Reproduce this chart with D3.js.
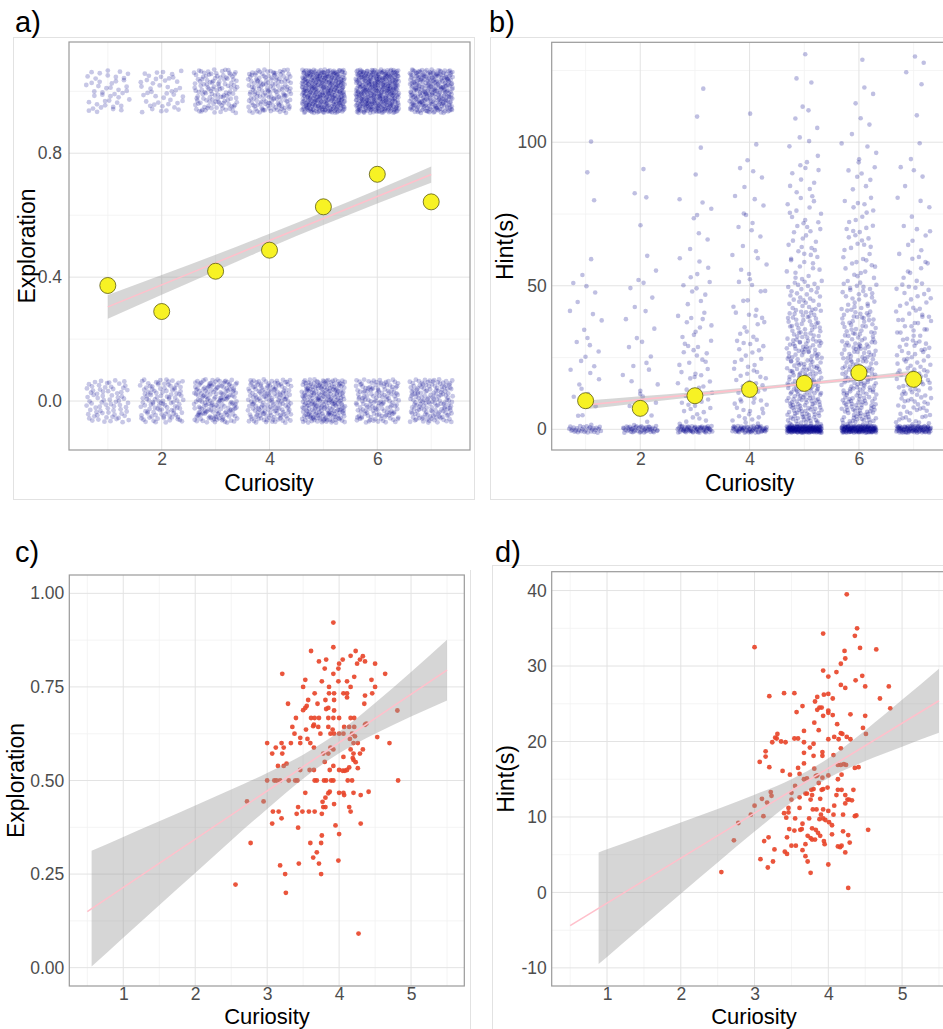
<!DOCTYPE html>
<html>
<head>
<meta charset="utf-8">
<script src="https://cdn.jsdelivr.net/npm/d3@7"></script>
<style>
  body { margin: 0; background: #ffffff; }
  text { font-family: "Liberation Sans", Arial, Helvetica, sans-serif; }
</style>
</head>
<body>
<svg id="fig" width="943" height="1029"></svg>
<script>
// ---------------------------------------------------------------
// Curiosity ratings (trial level, panels a and b)
const curiosityLevels = [1, 2, 3, 4, 5, 6, 7];

// Panel a: number of trials with exploration = 0 and = 1 at each rating
const explorationZeroCounts = [75, 110, 166, 158, 230, 145, 155];
const explorationOneCounts  = [45, 45, 120, 150, 380, 390, 280];
const explorationMeans = [0.373, 0.289, 0.419, 0.487, 0.627, 0.732, 0.643];
// linear fit with 95% band, evaluated at each rating
const explorationFit   = [0.304, 0.375, 0.446, 0.518, 0.589, 0.660, 0.731];
const explorationFitLo = [0.266, 0.343, 0.420, 0.496, 0.568, 0.638, 0.705];
const explorationFitHi = [0.342, 0.407, 0.472, 0.540, 0.610, 0.682, 0.757];

// Panel b: hint time (s) per trial — trials with no hint, then counts per 10 s bin
const hintZeroCounts = [30, 45, 60, 60, 160, 140, 90];
const hintBinEdges = [0, 10, 20, 30, 40, 50, 60, 70, 80, 90, 100, 110, 120, 130];
const hintBinCounts = [
  [6, 6, 6, 5, 4, 2, 0, 1, 1, 1, 0, 0, 0],
  [7, 6, 5, 4, 4, 3, 1, 1, 2, 0, 0, 0, 0],
  [15, 14, 12, 10, 7, 5, 3, 5, 1, 1, 1, 1, 0],
  [20, 18, 14, 10, 8, 6, 5, 6, 4, 2, 1, 0, 0],
  [72, 66, 55, 42, 30, 16, 14, 12, 8, 5, 4, 2, 2],
  [66, 60, 50, 38, 26, 15, 14, 10, 7, 5, 3, 3, 1],
  [32, 32, 27, 21, 16, 10, 7, 4, 4, 2, 1, 1, 3]
];
const hintMeans = [9.97, 7.3, 11.7, 13.9, 16.0, 19.7, 17.4];
const hintFit   = [8.5, 10.33, 12.17, 14.0, 15.83, 17.67, 19.5];
const hintFitLo = [7.0, 9.2, 11.3, 13.35, 15.25, 17.0, 18.5];
const hintFitHi = [10.0, 11.5, 13.0, 14.65, 16.4, 18.3, 20.5];

// Panel c: participant mean curiosity vs. exploration rate
const cCuriosity = [3.92,3.92,3.61,4.23,4.16,4.33,4.29,3.72,3.82,4.05,4.36,4.00,4.25,4.50,3.80,3.99,3.21,3.92,4.64,4.21,
  3.53,3.76,3.99,4.11,4.45,3.50,3.86,4.16,4.50,3.66,3.86,3.93,4.06,4.11,4.36,4.46,4.11,3.57,3.81,3.93,
  3.29,3.70,4.35,3.55,3.53,3.50,3.82,3.85,3.93,3.40,3.61,3.66,3.72,3.85,3.92,4.00,4.16,4.21,4.81,3.35,
  3.64,3.65,3.71,3.85,3.91,4.07,4.14,4.21,4.36,4.38,3.54,3.38,3.74,3.88,3.93,4.00,4.06,4.18,4.22,3.46,
  3.56,4.15,4.53,3.00,3.20,3.33,3.46,3.60,4.20,4.26,4.70,3.12,3.23,3.65,3.88,3.92,4.16,4.33,3.07,3.21,
  3.78,3.85,4.06,4.20,4.29,4.19,4.20,4.23,3.80,3.15,3.23,3.27,3.92,4.14,3.46,3.59,3.65,3.87,4.00,4.05,
  4.08,4.11,4.26,3.00,3.10,3.13,3.18,3.30,3.39,3.42,3.66,3.69,3.79,3.82,3.89,3.92,4.12,4.18,4.82,3.53,
  3.87,3.85,4.00,4.06,4.07,4.20,4.30,4.41,3.81,2.72,2.95,3.77,3.93,3.43,3.78,3.81,4.14,3.08,3.16,3.41,
  3.49,3.58,3.66,3.76,4.16,3.20,3.07,3.95,4.30,3.43,4.00,3.76,2.77,3.60,3.75,3.69,3.64,3.99,3.44,3.72,
  3.18,3.25,3.75,2.56,3.26,4.27];
const cExploration = [0.922,0.856,0.846,0.846,0.833,0.832,0.823,0.818,0.823,0.823,0.818,0.812,0.812,0.812,0.799,0.799,0.785,0.785,0.785,0.777,
  0.769,0.765,0.765,0.765,0.769,0.750,0.750,0.750,0.750,0.733,0.733,0.733,0.733,0.733,0.727,0.733,0.722,0.715,0.715,0.715,
  0.705,0.705,0.705,0.699,0.694,0.688,0.691,0.694,0.687,0.667,0.667,0.667,0.667,0.667,0.667,0.667,0.667,0.667,0.687,0.643,
  0.645,0.649,0.643,0.643,0.636,0.643,0.643,0.643,0.649,0.652,0.636,0.625,0.625,0.625,0.625,0.625,0.625,0.625,0.618,0.614,
  0.611,0.611,0.616,0.600,0.600,0.600,0.600,0.600,0.600,0.600,0.600,0.588,0.588,0.588,0.588,0.583,0.583,0.583,0.572,0.572,
  0.572,0.572,0.563,0.572,0.572,0.560,0.555,0.549,0.550,0.539,0.539,0.545,0.539,0.535,0.528,0.528,0.528,0.528,0.528,0.526,
  0.526,0.528,0.533,0.500,0.500,0.500,0.500,0.500,0.500,0.500,0.500,0.500,0.500,0.500,0.500,0.500,0.500,0.500,0.500,0.467,
  0.470,0.466,0.467,0.467,0.461,0.467,0.461,0.470,0.454,0.444,0.444,0.443,0.437,0.429,0.429,0.429,0.429,0.417,0.417,0.411,
  0.417,0.417,0.417,0.411,0.417,0.399,0.385,0.380,0.385,0.374,0.357,0.353,0.333,0.333,0.333,0.308,0.294,0.286,0.278,0.278,
  0.273,0.250,0.250,0.222,0.200,0.091];
const cFitX = [0.5, 5.5];
const cFitY = [0.1495, 0.795];
const cBandX  = [0.56, 1, 1.5, 2, 2.5, 3, 3.5, 4, 4.5, 5, 5.5];
const cBandLo = [0.003, 0.080, 0.167, 0.253, 0.340, 0.424, 0.505, 0.573, 0.625, 0.671, 0.714];
const cBandHi = [0.312, 0.349, 0.391, 0.433, 0.476, 0.520, 0.569, 0.630, 0.707, 0.790, 0.876];

// Panel d: participant mean curiosity vs. mean hint time
const dCuriosity = [4.25,4.39,3.93,4.36,3.00,4.43,4.65,4.22,4.23,4.17,3.93,4.00,4.11,4.46,4.37,4.17,4.23,4.50,4.82,3.20,
  3.40,3.54,3.85,3.94,4.00,4.06,4.70,3.82,3.65,3.88,3.91,3.85,3.57,4.00,4.00,3.93,4.06,4.30,4.50,4.84,
  3.81,4.12,3.87,3.67,4.47,4.51,3.31,3.28,3.30,3.36,3.42,3.54,3.59,3.67,3.80,4.00,4.08,4.14,4.17,4.19,
  4.25,4.30,3.24,3.75,3.15,3.15,3.67,3.80,3.92,3.92,4.07,4.17,3.07,3.20,3.38,3.48,3.59,3.61,3.67,3.81,
  3.83,3.67,3.71,3.85,3.92,4.00,4.13,4.17,4.21,4.24,4.36,4.41,4.18,4.13,3.87,3.99,3.93,3.91,3.80,3.77,
  3.71,3.69,3.78,3.76,3.89,3.55,3.50,3.50,3.22,3.23,3.17,3.10,3.00,2.95,3.12,2.78,2.72,2.55,4.13,4.11,
  4.18,4.23,4.34,4.26,4.28,4.32,4.23,4.08,4.20,4.07,4.00,3.93,3.84,3.79,3.90,3.93,3.88,3.74,3.55,3.61,
  3.46,3.40,3.43,3.65,3.64,3.62,3.54,3.47,3.78,3.86,3.89,3.72,3.78,3.76,3.82,3.95,3.94,3.69,3.56,3.50,
  3.44,3.19,3.13,3.27,3.41,3.44,3.65,3.69,3.72,3.08,3.25,3.18,3.76,4.00,4.05,4.05,4.20,4.27,4.13,4.16,
  4.18,4.23,4.29,4.36,4.38,4.54,4.27,4.01,3.96,3.83,3.46,3.61];
const dHint = [39.5,35.0,34.3,34.0,32.5,32.4,32.2,32.0,31.0,30.3,29.4,28.6,29.2,28.7,28.1,27.5,27.1,27.3,27.3,26.0,
  26.4,26.4,25.9,26.2,26.3,25.7,25.7,25.3,24.7,24.5,24.5,24.2,23.9,24.1,23.8,23.4,23.5,23.6,23.4,24.4,
  22.5,22.3,21.5,21.4,21.8,21.0,21.0,20.5,20.4,20.0,19.9,20.4,20.4,19.9,19.7,20.3,20.6,20.3,21.1,21.0,
  20.6,20.3,19.9,19.2,18.7,18.0,18.5,18.1,18.6,18.1,18.2,19.1,17.3,16.6,16.1,15.6,16.5,15.7,17.1,16.4,
  15.4,15.0,15.1,15.5,15.2,15.5,16.9,16.9,17.0,16.9,16.5,16.6,15.6,15.0,14.5,13.9,13.7,13.6,13.7,13.6,
  13.1,13.1,12.9,12.3,12.4,14.1,13.2,12.3,13.3,12.8,11.9,12.4,11.5,10.3,10.1,9.2,6.9,2.7,13.6,12.9,
  13.6,12.9,13.6,12.3,12.3,12.2,11.8,11.5,10.3,10.3,10.8,11.0,11.0,11.0,10.3,9.8,9.7,9.8,9.8,11.2,
  11.2,10.5,9.9,9.1,8.4,8.3,8.2,8.4,8.5,7.9,7.5,7.5,7.0,7.2,7.0,6.4,6.8,6.4,6.2,6.2,
  7.3,7.3,6.8,5.7,5.4,5.1,5.6,4.8,4.1,4.4,4.1,3.3,2.6,3.7,7.7,8.9,8.1,7.6,6.1,6.0,
  6.2,5.3,6.6,10.1,10.2,8.3,0.6,9.3,9.6,8.3,10.6,12.6];
const dFitX = [0.5, 5.5];
const dFitY = [-4.4, 25.4];
const dBandX  = [0.886, 1, 1.5, 2, 2.5, 3, 3.5, 4, 4.5, 5, 5.5];
const dBandLo = [-9.50, -8.55, -4.36, -0.18, 3.97, 8.06, 11.96, 15.15, 17.41, 19.32, 21.15];
const dBandHi = [5.30, 5.71, 7.48, 9.26, 11.07, 12.94, 15.00, 17.77, 21.47, 25.52, 29.65];

// ---------------------------------------------------------------
const svg = d3.select('#fig');

// low-discrepancy sequence used for jittering overlapping trial points
function halton(i, base) {
  let f = 1, r = 0;
  while (i > 0) { f /= base; r += f * (i % base); i = Math.floor(i / base); }
  return r;
}

const TICK_COLOR = '#4d4d4d';
const TICK_SIZE = 17.5;
const TITLE_SIZE = 23;

function drawPanel(p) {
  const x = d3.scaleLinear().domain(p.xDomain).range([p.left, p.right]);
  const y = d3.scaleLinear().domain(p.yDomain).range([p.bottom, p.top]);
  const clipId = 'clip-' + p.id;
  svg.append('clipPath').attr('id', clipId).append('rect')
    .attr('x', p.left).attr('y', p.top)
    .attr('width', p.right - p.left).attr('height', p.bottom - p.top);

  const g = svg.append('g');
  const grid = g.append('g');
  grid.selectAll('.vmin').data(p.xMinor).join('line')
    .attr('x1', d => x(d)).attr('x2', d => x(d)).attr('y1', p.top).attr('y2', p.bottom)
    .attr('stroke', '#f1f1f1').attr('stroke-width', 0.8);
  grid.selectAll('.hmin').data(p.yMinor).join('line')
    .attr('y1', d => y(d)).attr('y2', d => y(d)).attr('x1', p.left).attr('x2', p.right)
    .attr('stroke', '#f1f1f1').attr('stroke-width', 0.8);
  grid.selectAll('.vmaj').data(p.xMajor).join('line')
    .attr('x1', d => x(d)).attr('x2', d => x(d)).attr('y1', p.top).attr('y2', p.bottom)
    .attr('stroke', '#e3e3e3').attr('stroke-width', 1);
  grid.selectAll('.hmaj').data(p.yMajor).join('line')
    .attr('y1', d => y(d)).attr('y2', d => y(d)).attr('x1', p.left).attr('x2', p.right)
    .attr('stroke', '#e3e3e3').attr('stroke-width', 1);

  const plot = g.append('g').attr('clip-path', `url(#${clipId})`);

  // axes: tick labels only, no tick marks or axis lines
  const xAxis = g.append('g').attr('transform', `translate(0,${p.bottom})`)
    .call(d3.axisBottom(x).tickValues(p.xMajor).tickSize(0).tickPadding(p.xPad).tickFormat(p.xFormat));
  const yAxis = g.append('g').attr('transform', `translate(${p.left},0)`)
    .call(d3.axisLeft(y).tickValues(p.yMajor).tickSize(0).tickPadding(p.yPad).tickFormat(p.yFormat));
  [xAxis, yAxis].forEach(a => {
    a.select('.domain').remove();
    a.selectAll('text').attr('fill', TICK_COLOR).style('font-size', TICK_SIZE + 'px')
      .style('font-family', '"Liberation Sans", Arial, sans-serif');
  });

  g.append('text').attr('x', p.xTitleX).attr('y', p.xTitleY)
    .attr('text-anchor', 'middle').style('font-size', (p.xTitleSize || TITLE_SIZE) + 'px').attr('fill', '#000')
    .text(p.xTitle);
  g.append('text').attr('transform', `translate(${p.yTitleX},${(p.top + p.bottom) / 2}) rotate(-90)`)
    .attr('text-anchor', 'middle').style('font-size', TITLE_SIZE + 'px').attr('fill', '#000')
    .text(p.yTitle);
  g.append('text').attr('x', p.letterX).attr('y', p.letterY)
    .style('font-size', '29px').attr('fill', '#000').text(p.letter);

  return { x, y, plot, g, border: () =>
    g.append('rect').attr('x', p.left).attr('y', p.top)
      .attr('width', p.right - p.left).attr('height', p.bottom - p.top)
      .attr('fill', 'none').attr('stroke', '#9a9a9a').attr('stroke-width', 1.2) };
}

function drawBand(panel, xs, lo, hi) {
  const band = d3.area().x((d, i) => panel.x(xs[i])).y0((d, i) => panel.y(lo[i])).y1((d, i) => panel.y(hi[i]))
    .curve(d3.curveMonotoneX);
  panel.plot.append('path').datum(xs).attr('d', band).attr('fill', '#999999').attr('fill-opacity', 0.4);
}
function drawLine(panel, xs, ys) {
  const line = d3.line().x((d, i) => panel.x(xs[i])).y((d, i) => panel.y(ys[i]));
  panel.plot.append('path').datum(xs).attr('d', line).attr('fill', 'none')
    .attr('stroke', '#ffc0cb').attr('stroke-width', 1.6);
}
function drawMeans(panel, xs, ys) {
  panel.plot.selectAll('.mean').data(xs).join('circle')
    .attr('cx', d => panel.x(d)).attr('cy', (d, i) => panel.y(ys[i])).attr('r', 8)
    .attr('fill', '#f7f224').attr('stroke', '#5c5a10').attr('stroke-width', 0.8);
}

// outer frames of the four sub-figures
const frames = svg.append('g').attr('fill', 'none').attr('stroke', '#e2e2e2').attr('stroke-width', 1);
frames.append('rect').attr('x', 13.5).attr('y', 37.5).attr('width', 461).attr('height', 462);
frames.append('rect').attr('x', 490.5).attr('y', 37.5).attr('width', 470).attr('height', 462);
frames.append('line').attr('x1', 470.5).attr('x2', 470.5).attr('y1', 570).attr('y2', 1029);
frames.append('line').attr('x1', 492.5).attr('x2', 492.5).attr('y1', 565).attr('y2', 1029);
frames.append('line').attr('x1', 492).attr('x2', 943).attr('y1', 565.5).attr('y2', 565.5);

// ---------------------------------------------------------------
// a) exploration by curiosity rating
const pa = drawPanel({
  id: 'a', left: 69, right: 470, top: 42, bottom: 450,
  xDomain: [0.28, 7.72], yDomain: [-0.158, 1.159],
  xMajor: [2, 4, 6], xMinor: [1, 3, 5, 7], yMajor: [0, 0.4, 0.8], yMinor: [0.2, 0.6, 1.0],
  xFormat: d3.format('d'), yFormat: d3.format('.1f'), xPad: 3, yPad: 7,
  xTitle: 'Curiosity', xTitleX: 269, xTitleY: 491,
  yTitle: 'Exploration', yTitleX: 35,
  letter: 'a)', letterX: 15, letterY: 32
});
const aPoints = [];
curiosityLevels.forEach((c, li) => {
  [[0, explorationZeroCounts[li]], [1, explorationOneCounts[li]]].forEach(([v, n], vi) => {
    for (let j = 0; j < n; j++) {
      const k = li * 2000 + vi * 1000 + j + 1;
      aPoints.push({ cx: c + (halton(k, 2) - 0.5) * 0.8, cy: v + (halton(k, 3) - 0.5) * 0.14 });
    }
  });
});
pa.plot.append('g').selectAll('circle').data(aPoints).join('circle')
  .attr('cx', d => pa.x(d.cx)).attr('cy', d => pa.y(d.cy)).attr('r', 2.4)
  .attr('fill', '#00008b').attr('fill-opacity', 0.22);
drawBand(pa, curiosityLevels, explorationFitLo, explorationFitHi);
drawLine(pa, curiosityLevels, explorationFit);
drawMeans(pa, curiosityLevels, explorationMeans);
pa.border();

// ---------------------------------------------------------------
// b) hint time by curiosity rating
const pb = drawPanel({
  id: 'b', left: 551.7, right: 947.5, top: 42.3, bottom: 450,
  xDomain: [0.38, 7.62], yDomain: [-7.2, 134.8],
  xMajor: [2, 4, 6], xMinor: [1, 3, 5, 7], yMajor: [0, 50, 100], yMinor: [25, 75, 125],
  xFormat: d3.format('d'), yFormat: d => String(d), xPad: 3, yPad: 5,
  xTitle: 'Curiosity', xTitleX: 749.7, xTitleY: 491,
  yTitle: 'Hint(s)', yTitleX: 513,
  letter: 'b)', letterX: 489, letterY: 32
});
const bPoints = [];
curiosityLevels.forEach((c, li) => {
  for (let j = 0; j < hintZeroCounts[li]; j++) {
    const k = li * 3000 + j + 1;
    bPoints.push({ cx: c + (halton(k, 2) - 0.5) * 0.64, cy: (halton(k, 3) - 0.5) * 2.4 });
  }
  hintBinCounts[li].forEach((n, bi) => {
    const lo = hintBinEdges[bi], hi = hintBinEdges[bi + 1];
    for (let j = 0; j < n; j++) {
      const k = li * 3000 + 400 + bi * 180 + j + 1;
      bPoints.push({ cx: c + (halton(k, 2) - 0.5) * 0.64, cy: lo + 1.5 + (hi - lo) * halton(k, 3) * 0.99 });
    }
  });
});
pb.plot.append('g').selectAll('circle').data(bPoints).join('circle')
  .attr('cx', d => pb.x(d.cx)).attr('cy', d => pb.y(d.cy)).attr('r', 2.3)
  .attr('fill', '#00008b').attr('fill-opacity', 0.25);
drawBand(pb, curiosityLevels, hintFitLo, hintFitHi);
drawLine(pb, curiosityLevels, hintFit);
drawMeans(pb, curiosityLevels, hintMeans);
pb.border();

// ---------------------------------------------------------------
// c) participant-level exploration
const pc = drawPanel({
  id: 'c', left: 69.3, right: 464.3, top: 575, bottom: 986,
  xDomain: [0.25, 5.74], yDomain: [-0.049, 1.049],
  xMajor: [1, 2, 3, 4, 5], xMinor: [0.5, 1.5, 2.5, 3.5, 4.5, 5.5],
  yMajor: [0, 0.25, 0.5, 0.75, 1.0], yMinor: [0.125, 0.375, 0.625, 0.875],
  xFormat: d3.format('d'), yFormat: d3.format('.2f'), xPad: 2, yPad: 5,
  xTitle: 'Curiosity', xTitleX: 267, xTitleY: 1024, xTitleSize: 22,
  yTitle: 'Exploration', yTitleX: 24,
  letter: 'c)', letterX: 15, letterY: 562
});
pc.plot.append('g').selectAll('circle').data(cCuriosity).join('circle')
  .attr('cx', d => pc.x(d)).attr('cy', (d, i) => pc.y(cExploration[i])).attr('r', 2.4)
  .attr('fill', '#e8472b').attr('fill-opacity', 0.92);
drawBand(pc, cBandX, cBandLo, cBandHi);
drawLine(pc, cFitX, cFitY);
pc.border();

// ---------------------------------------------------------------
// d) participant-level hint time
const pd = drawPanel({
  id: 'd', left: 551.7, right: 957.4, top: 571.7, bottom: 986,
  xDomain: [0.25, 5.75], yDomain: [-12.4, 42.5],
  xMajor: [1, 2, 3, 4, 5], xMinor: [0.5, 1.5, 2.5, 3.5, 4.5, 5.5],
  yMajor: [-10, 0, 10, 20, 30, 40], yMinor: [-5, 5, 15, 25, 35],
  xFormat: d3.format('d'), yFormat: d => String(d), xPad: 2, yPad: 5,
  xTitle: 'Curiosity', xTitleX: 754, xTitleY: 1024, xTitleSize: 22,
  yTitle: 'Hint(s)', yTitleX: 514,
  letter: 'd)', letterX: 495, letterY: 562
});
pd.plot.append('g').selectAll('circle').data(dCuriosity).join('circle')
  .attr('cx', d => pd.x(d)).attr('cy', (d, i) => pd.y(dHint[i])).attr('r', 2.4)
  .attr('fill', '#e8472b').attr('fill-opacity', 0.92);
drawBand(pd, dBandX, dBandLo, dBandHi);
drawLine(pd, dFitX, dFitY);
pd.border();
</script>
</body>
</html>
